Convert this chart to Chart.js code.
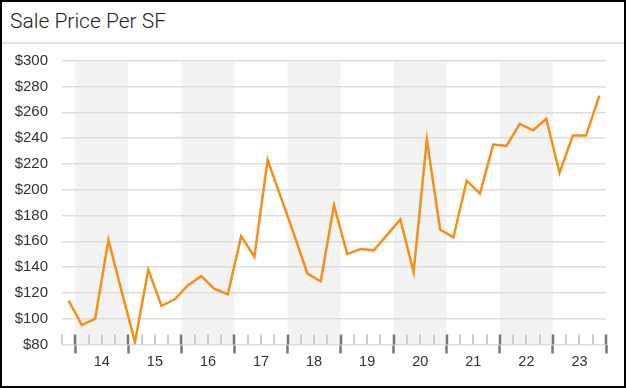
<!DOCTYPE html>
<html>
<head>
<meta charset="utf-8">
<script src="https://cdn.jsdelivr.net/npm/chart.js@4/dist/chart.umd.min.js"></script>
<style>
  html, body { margin:0; padding:0; background:#fff; }
  #frame { position:absolute; left:0; top:0; width:626px; height:388px; box-sizing:border-box; border:2px solid #000; pointer-events:none; }
  #head { position:absolute; left:0; top:0; width:626px; height:42px; border-bottom:2px solid #e2e2e2;
          font:300 21px Roboto, "Liberation Sans", sans-serif; color:#222; line-height:42px; padding-left:10px; box-sizing:content-box; }
  #wrap { position:absolute; left:0; top:44px; width:626px; height:342px; }
</style>
</head>
<body>
<div id="head">Sale Price Per SF</div>
<div id="wrap"><canvas id="chart"></canvas></div>
<div id="frame"></div>
<script>
// quarterly sale price per SF
const quarters = [
  '2013 Q4',
  '2014 Q1','2014 Q2','2014 Q3','2014 Q4',
  '2015 Q1','2015 Q2','2015 Q3','2015 Q4',
  '2016 Q1','2016 Q2','2016 Q3','2016 Q4',
  '2017 Q1','2017 Q2','2017 Q3','2017 Q4',
  '2018 Q1','2018 Q2','2018 Q3','2018 Q4',
  '2019 Q1','2019 Q2','2019 Q3','2019 Q4',
  '2020 Q1','2020 Q2','2020 Q3','2020 Q4',
  '2021 Q1','2021 Q2','2021 Q3','2021 Q4',
  '2022 Q1','2022 Q2','2022 Q3','2022 Q4',
  '2023 Q1','2023 Q2','2023 Q3','2023 Q4'
];
const pricePerSF = [
  114, 95, 100, 161, 121, 82, 138, 110, 115, 126,
  133, 123, 119, 164, 148, 223, 194, 165, 135, 129,
  188, 150, 154, 153, 165, 177, 136, 239, 169, 163,
  207, 197, 235, 234, 251, 246, 255, 213, 242, 242,
  273
];
const shadedYears = [2014, 2016, 2018, 2020, 2022];
const yTicks = { min: 80, max: 300, step: 20 };
const xRange = { min: 2013.75, max: 2024 };

// quarter label -> middle of that quarter, in years
const qToX = q => { const [y, n] = q.split(' Q').map(Number); return y + (n - 0.5) / 4; };
const points = quarters.map((q, i) => ({ x: qToX(q), y: pricePerSF[i] }));

const decor = {
  id: 'decor',
  beforeDraw(chart) {
    const { ctx, chartArea: a, scales: { x } } = chart;
    ctx.save();
    ctx.fillStyle = '#f3f3f3';
    shadedYears.forEach(yr => {
      const l = x.getPixelForValue(yr), r = x.getPixelForValue(yr + 1);
      ctx.fillRect(l, a.top, r - l, a.bottom - a.top);
    });
    ctx.restore();
  },
  beforeDatasetsDraw(chart) {
    const { ctx, chartArea: a, scales: { x } } = chart;
    ctx.save();
    x.ticks.forEach(t => {
      const major = Number.isInteger(t.value);
      const px = Math.round(x.getPixelForValue(t.value));
      ctx.strokeStyle = major ? '#777' : '#ccc';
      ctx.lineWidth = major ? 2.5 : 2;
      ctx.beginPath();
      ctx.moveTo(px, a.bottom - 10);
      ctx.lineTo(px, a.bottom);
      ctx.stroke();
    });
    ctx.restore();
  }
};

new Chart(document.getElementById('chart'), {
  type: 'line',
  data: {
    datasets: [{
      data: points,
      borderColor: '#F39019',
      borderWidth: 2.5,
      pointRadius: 0,
      tension: 0,
      fill: false
    }]
  },
  options: {
    responsive: true, maintainAspectRatio: false, animation: false,
    layout: { padding: { top: 16.7, right: 20, left: 0, bottom: 0 } },
    plugins: { legend: { display: false }, tooltip: { enabled: false } },
    scales: {
      x: {
        type: 'linear', min: xRange.min, max: xRange.max,
        afterFit: s => { s.height = 41.5; },
        border: { display: false },
        grid: {
          drawOnChartArea: false, tickLength: 9,
          tickColor: c => Number.isInteger(c.tick.value) ? '#777' : 'rgba(0,0,0,0)',
          tickWidth: 2.5
        },
        ticks: {
          stepSize: 0.25, autoSkip: false, maxRotation: 0, padding: 0,
          color: '#333', font: { family: '"Liberation Sans", Arial, sans-serif', size: 14.5 },
          callback: v => (v % 1 === 0.5) ? String(Math.floor(v)).slice(2) : ''
        }
      },
      y: {
        min: yTicks.min, max: yTicks.max,
        afterFit: s => { s.width = 62; s.paddingTop = 0; s.paddingBottom = 0; },
        border: { display: false },
        grid: { color: '#dddddd', lineWidth: 1.5, drawTicks: false },
        ticks: {
          stepSize: yTicks.step, padding: 14,
          color: '#333', font: { family: '"Liberation Sans", Arial, sans-serif', size: 15 },
          callback: v => '$' + v
        }
      }
    }
  },
  plugins: [decor]
});
</script>
</body>
</html>
